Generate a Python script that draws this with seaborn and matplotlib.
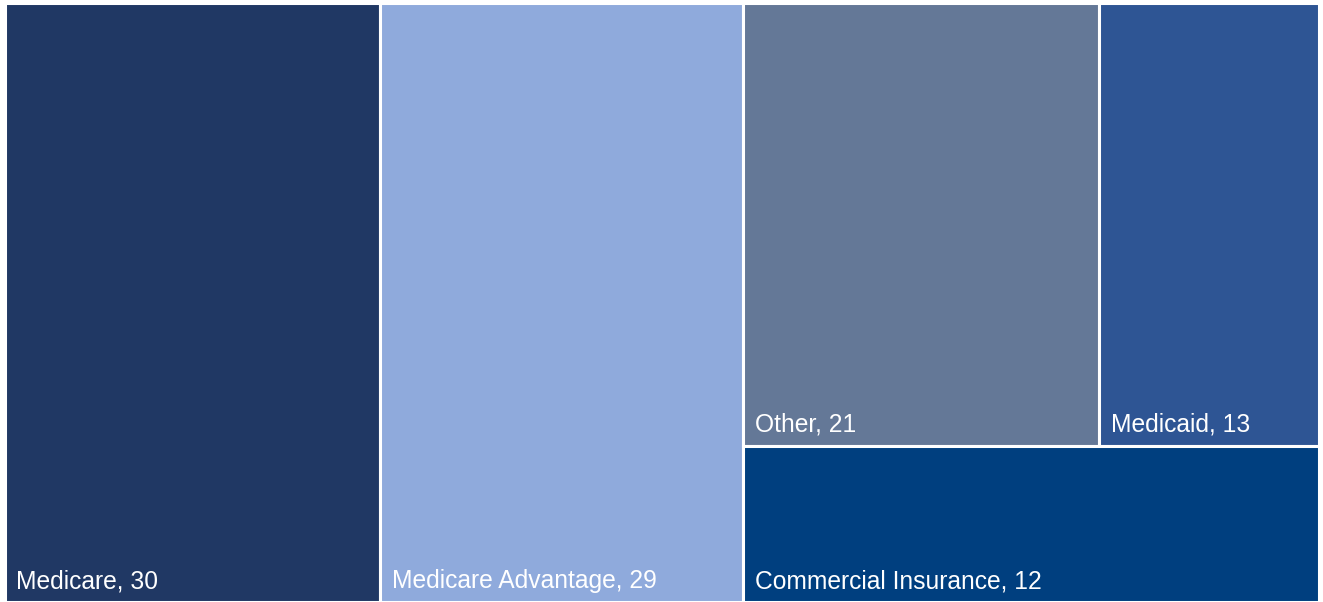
import matplotlib
matplotlib.use("Agg")
import matplotlib.pyplot as plt
from matplotlib.patches import Rectangle
import seaborn as sns

categories = ["Medicare", "Medicare Advantage", "Other", "Medicaid", "Commercial Insurance"]
values = [30, 29, 21, 13, 12]
colors = ["#203864", "#8FAADC", "#647897", "#2E5594", "#003F7F"]

sns.set_theme(style="white")
plt.rcParams["font.family"] = ["Liberation Sans", "DejaVu Sans"]

FW, FH = 1323, 602
fig = plt.figure(figsize=(FW / 100, FH / 100), dpi=100)
ax_l, ax_b, ax_w, ax_h = 4.5, 0.0, 1315.0, 599.5
ax = fig.add_axes([ax_l / FW, ax_b / FH, ax_w / FW, ax_h / FH])
W, H = ax_w, ax_h
ax.set_xlim(0, W)
ax.set_ylim(0, H)
ax.axis("off")


def worst(row, side):
    s = sum(row)
    return max(max(side * side * r / (s * s), s * s / (side * side * r)) for r in row)


def squarify(sizes, x, y, w, h):
    total = sum(sizes)
    areas = [v * w * h / total for v in sizes]
    rects = []
    while areas:
        side = min(w, h)
        row = [areas[0]]
        i = 1
        while i < len(areas) and worst(row + [areas[i]], side) <= worst(row, side):
            row.append(areas[i])
            i += 1
        areas = areas[i:]
        s = sum(row)
        if w >= h:
            cw = s / h
            cy = y + h
            for a in row:
                rh = a / cw
                cy -= rh
                rects.append((x, cy, cw, rh))
            x += cw
            w -= cw
        else:
            rh = s / w
            cx = x
            for a in row:
                rw = a / rh
                rects.append((cx, y + h - rh, rw, rh))
                cx += rw
            h -= rh
    return rects


rects = squarify(values, 0, 0, W, H)
for (rx, ry, rw, rh), name, val, col in zip(rects, categories, values, colors):
    ax.add_patch(Rectangle((rx, ry), rw, rh, facecolor=col, edgecolor="white", linewidth=2.2))
    ax.text(rx + 12.0, ry + 14.0, f"{name}, {val}", color="white", fontsize=17.7,
            ha="left", va="baseline")

fig.savefig("out.png", dpi=100, facecolor="white")
